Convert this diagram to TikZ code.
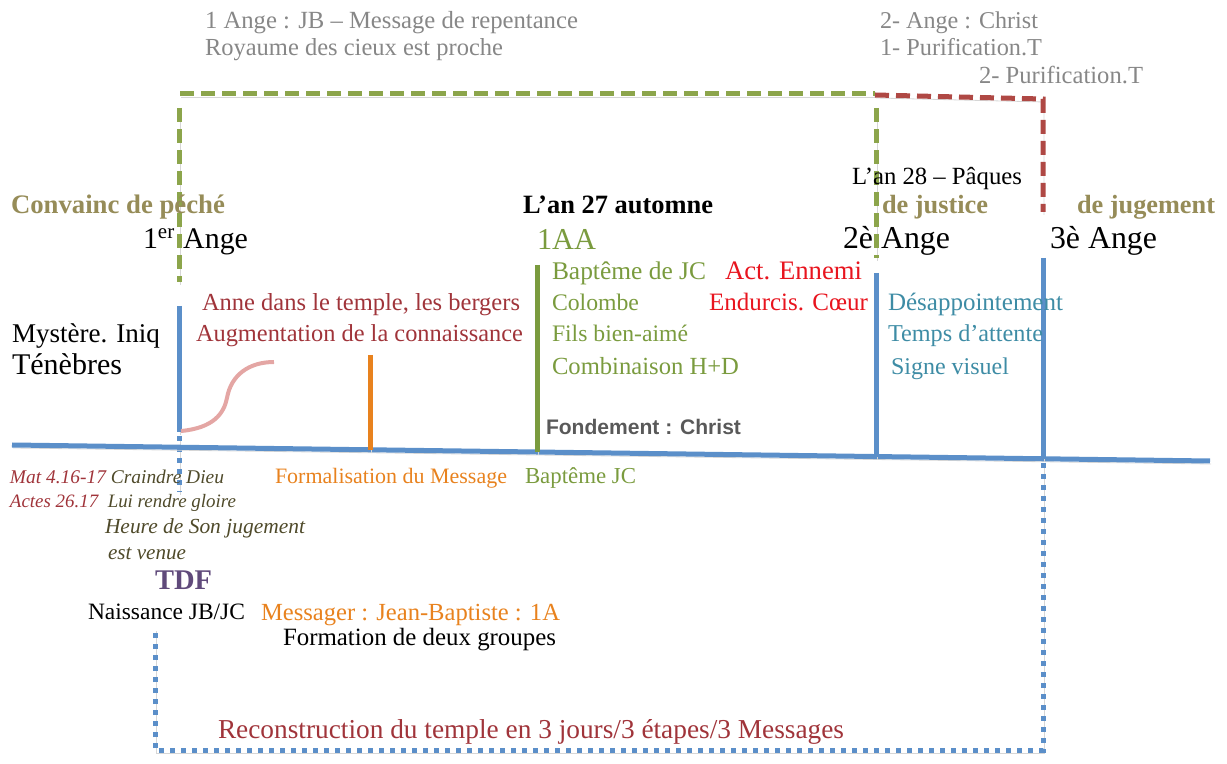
\documentclass[tikz,border=0pt]{standalone}
\usepackage{fontspec}
\setmainfont{Liberation Serif}
\newfontfamily\sansf{Liberation Sans}
\usepackage{graphicx}
\newlength\pxu
\setlength\pxu{0.5pt}
\newcommand\fw[2]{\resizebox{#1\pxu}{!}{#2}}
\definecolor{cgray}{RGB}{135,135,135}
\definecolor{colive}{RGB}{150,140,88}
\definecolor{cgreen}{RGB}{122,155,62}
\definecolor{dgreen}{RGB}{140,165,75}
\definecolor{dred}{RGB}{175,72,68}
\definecolor{cblue}{RGB}{91,143,201}
\definecolor{corange}{RGB}{232,130,30}
\definecolor{cdarkred}{RGB}{160,52,58}
\definecolor{cred}{RGB}{232,20,30}
\definecolor{cteal}{RGB}{62,140,165}
\definecolor{cpurple}{RGB}{96,74,123}
\definecolor{cpink}{RGB}{228,166,164}
\definecolor{cbrown}{RGB}{79,74,42}
\definecolor{cfond}{RGB}{89,89,89}
\tikzset{
  lbl/.style={anchor=base west, inner sep=0pt, outer sep=0pt, yshift=-1pt},
  shd/.style={preaction={draw=black!16, transform canvas={xshift=0.5pt,yshift=-1.5pt}}},
  tline/.style={line width=2.5pt, draw=cblue, shd},
  bar/.style={line width=2.5pt, shd},
  dashg/.style={line width=2.5pt, draw=dgreen, dash pattern=on 7pt off 3.5pt, shd},
  dashr/.style={line width=2.5pt, draw=dred, dash pattern=on 7pt off 3.5pt, shd},
  dotb/.style={line width=2.5pt, draw=cblue, dash pattern=on 2.5pt off 3pt, shd},
}
\begin{document}
\begin{tikzpicture}[x=0.5pt,y=-0.5pt]
\useasboundingbox (0,0) rectangle (1227,764);
% ---------- coordinates ----------
\coordinate (tlA) at (12,445);
\coordinate (tlB) at (1210,461);
\coordinate (g1a) at (179,282);
\coordinate (g1b) at (179,108);
\coordinate (gTa) at (180,94);
\coordinate (gTb) at (875,94);
\coordinate (g2a) at (876,108);
\coordinate (g2b) at (876,258);
\coordinate (rA) at (875,95);
\coordinate (rB) at (1043,99);
\coordinate (rC) at (1043,212);
\coordinate (b1a) at (179,306);
\coordinate (b1b) at (179,432);
\coordinate (o1a) at (370,355);
\coordinate (o1b) at (370,450);
\coordinate (gr1a) at (537,265);
\coordinate (gr1b) at (537,452);
\coordinate (b2a) at (876,273);
\coordinate (b2b) at (876,457);
\coordinate (b3a) at (1043,258);
\coordinate (b3b) at (1043,459);
\coordinate (d0a) at (179,436);
\coordinate (d0b) at (179,492);
\coordinate (d1) at (1043,463);
\coordinate (d2) at (1043,750);
\coordinate (d3) at (155,750);
\coordinate (d4) at (155,628);
\coordinate (pk0) at (181,431);
\coordinate (pkm) at (227,398);
\coordinate (pk1) at (274,362);
% ---------- lines ----------
\draw[dotb] (d0a) -- (d0b);
\draw[dotb] (d1) -- (d2) -- (d3) -- (d4);
\draw[tline] (tlA) -- (tlB);
\draw[dashg] (gTa) -- (gTb);
\draw[dashg] (g1b) -- (g1a);
\draw[dashg] (g2a) -- (g2b);
\draw[dashr] (rA) -- (rB) -- (rC);
\draw[bar,draw=cblue] (b1a) -- (b1b);
\draw[bar,draw=corange] (o1a) -- (o1b);
\draw[bar,draw=cgreen] (gr1a) -- (gr1b);
\draw[bar,draw=cblue] (b2a) -- (b2b);
\draw[bar,draw=cblue] (b3a) -- (b3b);
\draw[line width=2pt, draw=cpink] (pk0) .. controls (214,428) and (224,413) .. (pkm) .. controls (231,375) and (249,362) .. (pk1);
% ---------- top texts ----------
\node[lbl,text=cgray] (t1) at (205,27) {\fw{373}{1 Ange : JB – Message de repentance}};
\node[lbl,text=cgray] (t2) at (205,54) {\fw{298}{Royaume des cieux est proche}};
\node[lbl,text=cgray] (t3) at (880,27) {\fw{158}{2- Ange : Christ}};
\node[lbl,text=cgray] (t4) at (880,54) {\fw{162}{1- Purification.T}};
\node[lbl,text=cgray] (t5) at (979,82) {\fw{164}{2- Purification.T}};
% ---------- headings ----------
\node[lbl,text=colive] (conv) at (11,212) {\fw{214}{\bfseries Convainc de péché}};
\node[lbl] (ange1) at (143,247) {\fw{105}{1\textsuperscript{er} Ange}};
\node[lbl] (an27) at (523,212) {\fw{190}{\bfseries L’an 27 automne}};
\node[lbl,text=cgreen] (aa) at (537,248) {\fw{59}{1AA}};
\node[lbl] (an28) at (852,183) {\fw{170}{L’an 28 – Pâques}};
\node[lbl,text=colive] (just) at (882,212) {\fw{106}{\bfseries de justice}};
\node[lbl,text=colive] (jug) at (1077,212) {\fw{138}{\bfseries de jugement}};
\node[lbl] (ange2) at (843,247) {\fw{107}{2è Ange}};
\node[lbl] (ange3) at (1050,247) {\fw{107}{3è Ange}};
% ---------- green column ----------
\node[lbl,text=cgreen] (bap) at (552,278) {\fw{154}{Baptême de JC}};
\node[lbl,text=cgreen] (col) at (552,309) {\fw{87}{Colombe}};
\node[lbl,text=cgreen] (fils) at (552,340) {\fw{136}{Fils bien-aimé}};
\node[lbl,text=cgreen] (comb) at (552,373) {\fw{187}{Combinaison H+D}};
\node[lbl,text=cred] (act) at (725,278) {\fw{137}{Act. Ennemi}};
\node[lbl,text=cred] (endu) at (709,309) {\fw{159}{Endurcis. Cœur}};
\node[lbl,text=cteal] (desa) at (888,309) {\fw{175}{Désappointement}};
\node[lbl,text=cteal] (temps) at (888,340) {\fw{155}{Temps d’attente}};
\node[lbl,text=cteal] (signe) at (891,373) {\fw{118}{Signe visuel}};
\node[lbl,text=cfond] (fond) at (546,433) {\fw{195}{\sansf\bfseries Fondement : Christ}};
% ---------- left column ----------
\node[lbl,text=cdarkred] (anne) at (202,309) {\fw{318}{Anne dans le temple, les bergers}};
\node[lbl,text=cdarkred] (augm) at (196,340) {\fw{327}{Augmentation de la connaissance}};
\node[lbl] (myst) at (12,341) {\fw{148}{Mystère. Iniq}};
\node[lbl] (tene) at (12,373) {\fw{110}{Ténèbres}};
% ---------- below timeline ----------
\node[lbl,text=corange] (form) at (275,482) {\fw{232}{Formalisation du Message}};
\node[lbl,text=cgreen] (bapjc) at (525,482) {\fw{111}{Baptême JC}};
\node[lbl] (mat) at (10,482) {\fw{214}{\itshape\textcolor{cdarkred}{Mat 4.16-17} \textcolor{cbrown}{Craindre Dieu}}};
\node[lbl] (actes) at (10,506) {\fw{226}{\itshape\textcolor{cdarkred}{Actes 26.17}\ \ \textcolor{cbrown}{Lui rendre gloire}}};
\node[lbl,text=cbrown] (heure) at (105,532) {\fw{200}{\itshape Heure de Son jugement}};
\node[lbl,text=cbrown] (venue) at (108,558) {\fw{78}{\itshape est venue}};
\node[lbl,text=cpurple] (tdf) at (155,588) {\fw{57}{\bfseries TDF}};
\node[lbl] (naiss) at (88,617) {\fw{157}{Naissance JB/JC}};
\node[lbl,text=corange] (mess) at (261,618) {\fw{299}{Messager : Jean-Baptiste : 1A}};
\node[lbl] (forma) at (283,644) {\fw{273}{Formation de deux groupes}};
\node[lbl,text=cdarkred] (recon) at (218,736) {\fw{626}{Reconstruction du temple en 3 jours/3 étapes/3 Messages}};
\end{tikzpicture}
\end{document}
